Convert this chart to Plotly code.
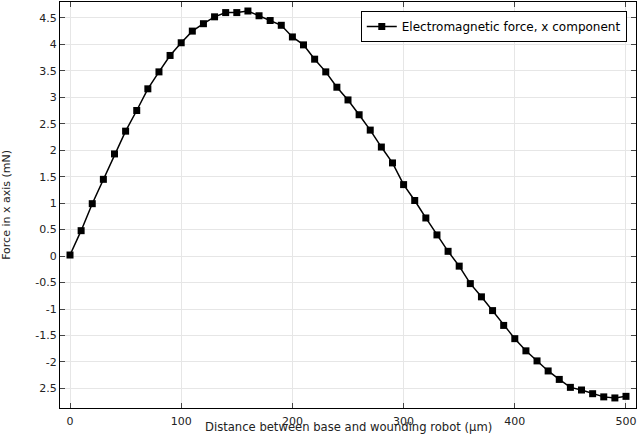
import plotly.graph_objects as go

distance_um = [0, 10, 20, 30, 40, 50, 60, 70, 80, 90, 100, 110, 120, 130, 140, 150, 160, 170, 180, 190,
               200, 210, 220, 230, 240, 250, 260, 270, 280, 290, 300, 310, 320, 330, 340, 350, 360, 370,
               380, 390, 400, 410, 420, 430, 440, 450, 460, 470, 480, 490, 500]
force_mN = [0.02, 0.48, 0.99, 1.45, 1.93, 2.36, 2.75, 3.16, 3.48, 3.79, 4.03, 4.25, 4.39, 4.52, 4.60,
            4.60, 4.63, 4.54, 4.45, 4.36, 4.14, 3.99, 3.72, 3.48, 3.19, 2.95, 2.67, 2.38, 2.06, 1.76,
            1.35, 1.05, 0.72, 0.40, 0.09, -0.19, -0.52, -0.77, -1.03, -1.31, -1.56, -1.79, -1.98,
            -2.17, -2.33, -2.48, -2.53, -2.60, -2.66, -2.68, -2.65]

x_tickvals = [0, 100, 200, 300, 400, 500]
y_tickvals = [4.5, 4, 3.5, 3, 2.5, 2, 1.5, 1, 0.5, 0, -0.5, -1, -1.5, -2, -2.5]
y_ticktext = ["4.5", "4", "3.5", "3", "2.5", "2", "1.5", "1", "0.5", "0", "-0.5", "-1", "-1.5", "-2", "2.5"]

series_name = "Electromagnetic force, x component"
x_title = "Distance between base and wounding robot (µm)"
y_title = "Force in x axis (mN)"

fig = go.Figure()
fig.add_trace(go.Scatter(
    x=distance_um, y=force_mN, mode="lines+markers", name=series_name,
    line=dict(color="black", width=1.5),
    marker=dict(symbol="square", size=7, color="black"),
))

fig.update_layout(
    width=640, height=434,
    margin=dict(l=60, r=4, t=2, b=26),
    paper_bgcolor="white", plot_bgcolor="white",
    font=dict(family="DejaVu Sans", size=11, color="#222222"),
    showlegend=True,
    legend=dict(x=0.984, y=0.978, xanchor="right", yanchor="top",
                bordercolor="black", borderwidth=1, bgcolor="white",
                font=dict(family="DejaVu Sans", size=12, color="black"),
                itemwidth=30),
    annotations=[
        dict(text=x_title, xref="paper", yref="paper", x=0.5, y=-0.0685,
             xanchor="center", yanchor="bottom", showarrow=False,
             font=dict(family="DejaVu Sans", size=11.6, color="#222222")),
        dict(text=y_title, xref="paper", yref="paper", x=-0.094, y=0.5,
             xanchor="center", yanchor="middle", textangle=-90, showarrow=False,
             font=dict(family="DejaVu Sans", size=11, color="#222222")),
    ],
)
fig.update_xaxes(
    range=[-9, 509], tickvals=x_tickvals, ticks="inside", ticklen=5,
    showline=True, linecolor="black", linewidth=1, mirror="ticks",
    showgrid=True, gridcolor="#e6e6e6", gridwidth=1, zeroline=False,
    automargin=False, tickfont=dict(size=11), ticklabelstandoff=3,
)
fig.update_yaxes(
    range=[-2.87, 4.80], tickvals=y_tickvals, ticktext=y_ticktext, ticks="inside", ticklen=5,
    showline=True, linecolor="black", linewidth=1, mirror="ticks",
    showgrid=True, gridcolor="#e6e6e6", gridwidth=1, zeroline=False,
    automargin=False, tickfont=dict(size=11),
)

fig.write_html("out.html", config={"displayModeBar": False},
               post_script="document.body.style.margin='0';document.body.style.overflow='hidden';")
